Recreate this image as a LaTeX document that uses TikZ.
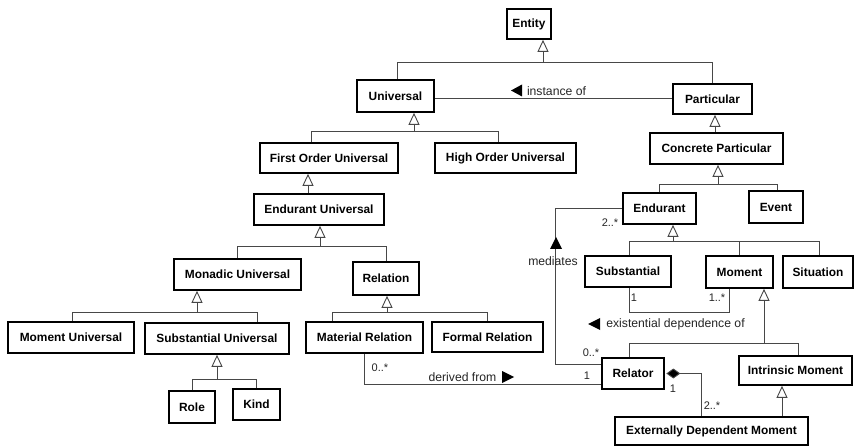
\documentclass[tikz,border=0pt]{standalone}
\usepackage{fontspec}
\setmainfont{Liberation Sans}
\usetikzlibrary{arrows.meta}
\begin{document}
\begin{tikzpicture}[x=1pt,y=-1pt,
  box/.style={draw=black,line width=1.7pt,fill=white,inner sep=0pt,
    font=\fontsize{11.9}{13}\selectfont\bfseries},
  conn/.style={draw=black!72,line width=0.9pt},
  gen/.style={conn,-{Triangle[open,length=12pt,width=11pt,line width=0.9pt]}},
  comp/.style={conn,{Diamond[length=14pt,width=10pt,fill=black]}-},
  lbl/.style={inner sep=0pt,font=\fontsize{12.2}{13}\selectfont,text=black!85},
  mult/.style={inner sep=0pt,font=\fontsize{11}{12}\selectfont,text=black!85},
  dirmark/.style={fill=black}]
\useasboundingbox[fill=white] (0,0) rectangle (854,446);

% boxes
\node[box,minimum width=44pt,minimum height=30pt] (entity) at (529,24) {Entity};
\node[box,minimum width=77pt,minimum height=32pt] (universal) at (395.5,96) {Universal};
\node[box,minimum width=79pt,minimum height=30pt] (particular) at (712.5,99) {Particular};
\node[box,minimum width=138pt,minimum height=30pt] (fou) at (329,158) {First Order Universal};
\node[box,minimum width=141pt,minimum height=30pt] (hou) at (505.5,158) {High Order Universal};
\node[box,minimum width=133pt,minimum height=31pt] (cp) at (716.5,148.5) {Concrete Particular};
\node[box,minimum width=130pt,minimum height=31pt] (eu) at (319,209.5) {Endurant Universal};
\node[box,minimum width=73pt,minimum height=31pt] (endurant) at (659.5,208.5) {Endurant};
\node[box,minimum width=54pt,minimum height=32pt] (event) at (776,207) {Event};
\node[box,minimum width=127pt,minimum height=31pt] (monadic) at (237.5,274.5) {Monadic Universal};
\node[box,minimum width=66pt,minimum height=33pt] (relation) at (386,278.5) {Relation};
\node[box,minimum width=86pt,minimum height=31pt] (substantial) at (628,271.5) {Substantial};
\node[box,minimum width=67pt,minimum height=32pt] (moment) at (739.5,272) {Moment};
\node[box,minimum width=70pt,minimum height=32pt] (situation) at (818,272) {Situation};
\node[box,minimum width=126pt,minimum height=31pt] (mu) at (71,337.5) {Moment Universal};
\node[box,minimum width=144pt,minimum height=31pt] (su) at (217,338.5) {Substantial Universal};
\node[box,minimum width=117pt,minimum height=31pt] (matrel) at (364.5,337.5) {Material Relation};
\node[box,minimum width=111pt,minimum height=30pt] (formrel) at (487.5,337) {Formal Relation};
\node[box,minimum width=62pt,minimum height=31pt] (relator) at (633,373.5) {Relator};
\node[box,minimum width=113pt,minimum height=29pt] (intr) at (795.5,370.5) {Intrinsic Moment};
\node[box,minimum width=46pt,minimum height=32pt] (role) at (192,407) {Role};
\node[box,minimum width=47pt,minimum height=31pt] (kind) at (256.5,404.5) {Kind};
\node[box,minimum width=193pt,minimum height=28pt] (edm) at (711.5,431) {Externally Dependent Moment};

% generalizations
\draw[gen] ([xshift=1.5pt]universal.north) |- ([xshift=14pt,yshift=-23pt]entity.south) -- ([xshift=14pt]entity.south);
\draw[conn] (particular.north) |- ([xshift=14pt,yshift=-23pt]entity.south);

\draw[gen] ([xshift=-18pt]fou.north) |- ([xshift=18.5pt,yshift=-19pt]universal.south) -- ([xshift=18.5pt]universal.south);
\draw[conn] ([xshift=-7.5pt]hou.north) |- ([xshift=18.5pt,yshift=-19pt]universal.south);

\draw[gen] ([xshift=-11pt]eu.north) -- ([xshift=-21pt]fou.south);

\draw[gen] (monadic.north) |- ([xshift=1pt,yshift=-21pt]eu.south) -- ([xshift=1pt]eu.south);
\draw[conn] (relation.north) |- ([xshift=1pt,yshift=-21pt]eu.south);

\draw[gen] ([xshift=1pt]mu.north) |- ([xshift=-40.5pt,yshift=-22pt]monadic.south) -- ([xshift=-40.5pt]monadic.south);
\draw[conn] ([xshift=40pt]su.north) |- ([xshift=-40.5pt,yshift=-22pt]monadic.south);

\draw[gen] (role.north) |- ([yshift=-25pt]su.south) -- (su.south);
\draw[conn] (kind.north) |- ([yshift=-25pt]su.south);

\draw[gen] ([xshift=-32.5pt]matrel.north) |- ([xshift=1pt,yshift=-17pt]relation.south) -- ([xshift=1pt]relation.south);
\draw[conn] (formrel.north) |- ([xshift=1pt,yshift=-17pt]relation.south);

\draw[gen] ([xshift=-1.5pt]cp.north) -- ([xshift=2.5pt]particular.south);

\draw[gen] (endurant.north) |- ([xshift=1.5pt,yshift=-20pt]cp.south) -- ([xshift=1.5pt]cp.south);
\draw[conn] ([xshift=1pt]event.north) |- ([xshift=1.5pt,yshift=-20pt]cp.south);

\draw[gen] ([xshift=1pt]substantial.north) |- ([xshift=13.5pt,yshift=-17pt]endurant.south) -- ([xshift=13.5pt]endurant.south);
\draw[conn] (moment.north) |- ([xshift=13.5pt,yshift=-17pt]endurant.south);
\draw[conn] ([xshift=1pt]situation.north) |- ([xshift=13.5pt,yshift=-17pt]endurant.south);

\draw[gen] ([xshift=-4pt]relator.north) |- ([xshift=24.5pt,yshift=-55pt]moment.south) -- ([xshift=24.5pt]moment.south);
\draw[conn] ([xshift=2.5pt]intr.north) |- ([xshift=24.5pt,yshift=-55pt]moment.south);

\draw[gen] ([xshift=70.5pt]edm.north) -- ([xshift=-13.5pt]intr.south);

% associations
\draw[conn] ([yshift=-2pt]universal.east) -- ([yshift=-2pt]universal.east -| particular.west);
\draw[conn] ([xshift=1pt]substantial.south) |- ([xshift=-10.5pt,yshift=-24pt]moment.south) -- ([xshift=-10.5pt]moment.south);
\draw[conn] (endurant.west) -| ([xshift=-46pt,yshift=9.5pt]relator.west) -- ([yshift=9.5pt]relator.west);
\draw[conn] (matrel.south) |- ([yshift=-10.5pt]relator.west);
\draw[comp] ([xshift=1.5pt]relator.east) -| ([xshift=-10.5pt]edm.north);

% association labels
\node[lbl] (linst) at (556.5,91) {instance of};
\fill[dirmark] (511,90.5) -- (522,84.5) -- (522,96.5) -- cycle;
\node[lbl] (lexist) at (675.5,324) {existential dependence of};
\fill[dirmark] (588,324) -- (600,318) -- (600,330) -- cycle;
\node[lbl] (lmed) at (553,261) {mediates};
\fill[dirmark] (556,237) -- (550,249) -- (562,249) -- cycle;
\node[lbl] (lder) at (462.5,377) {derived from};
\fill[dirmark] (514,377) -- (502,371) -- (502,383) -- cycle;

% multiplicities
\node[mult] (m1) at (610,223) {2..*};
\node[mult] (m2) at (634,298) {1};
\node[mult] (m3) at (717,298) {1..*};
\node[mult] (m4) at (591,353) {0..*};
\node[mult] (m5) at (587,376) {1};
\node[mult] (m6) at (380,368) {0..*};
\node[mult] (m7) at (673,389) {1};
\node[mult] (m8) at (712,406) {2..*};
\end{tikzpicture}
\end{document}
